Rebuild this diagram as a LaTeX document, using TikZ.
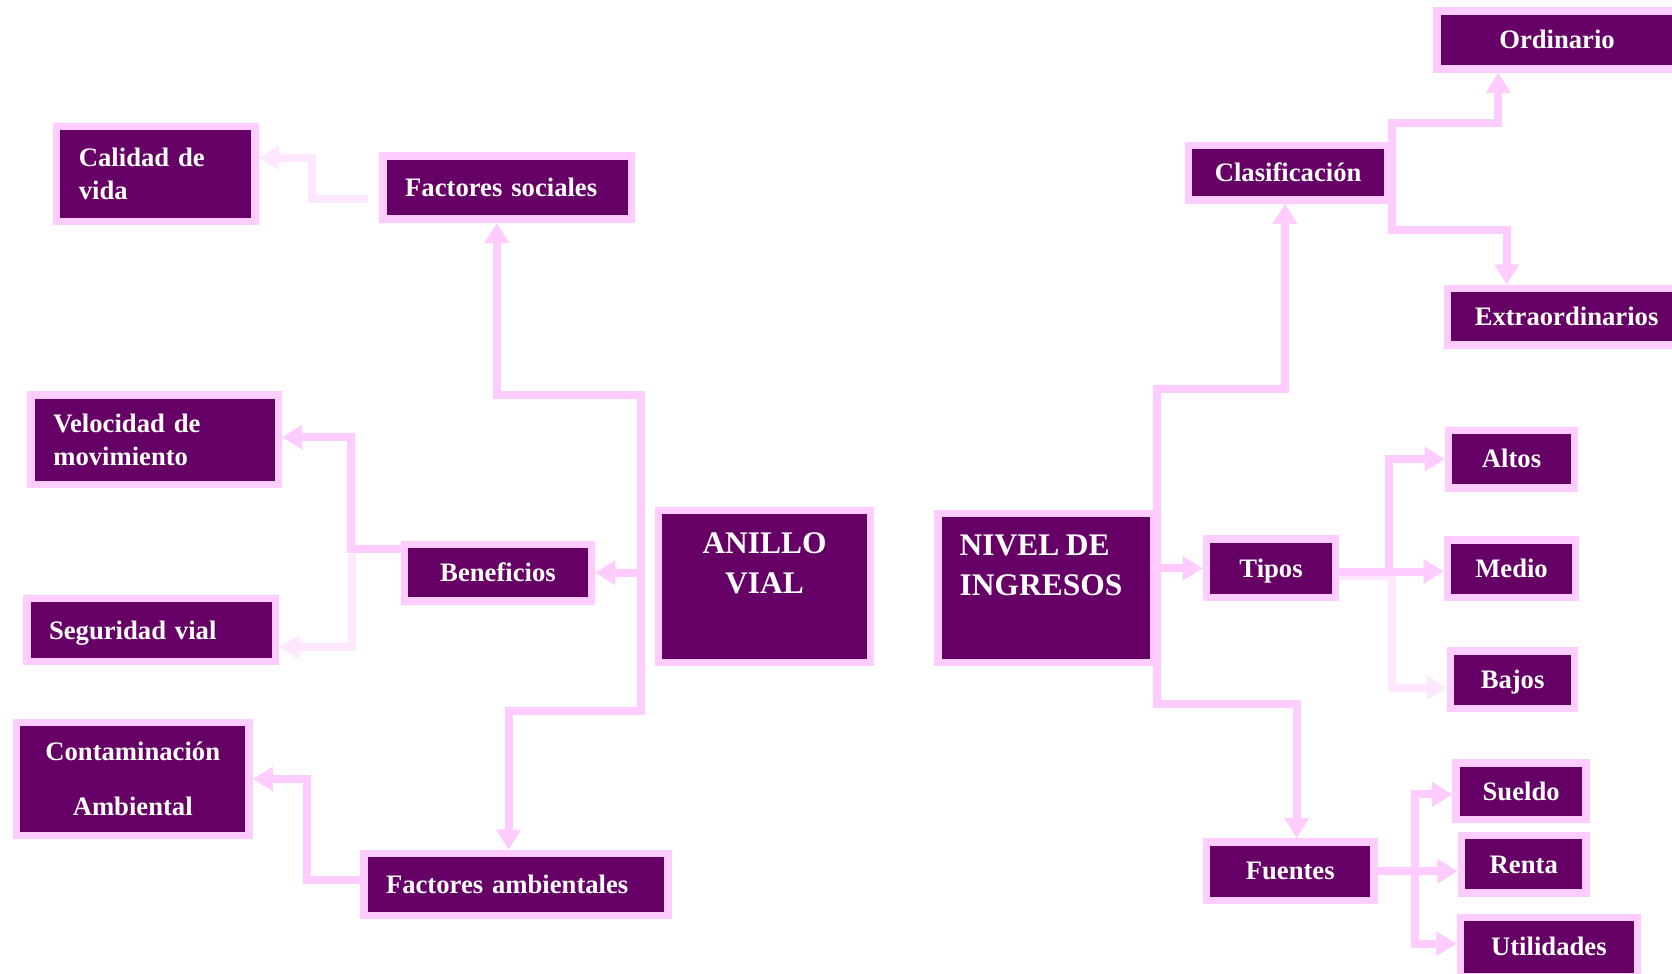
\documentclass[tikz,border=0pt]{standalone}
\usepackage{fontspec}
\setmainfont{Liberation Serif}[WordSpace = 0.85]
\usetikzlibrary{arrows.meta, positioning, calc}
\definecolor{morado}{HTML}{660066}
\definecolor{rosa}{HTML}{FFCCFF}
\definecolor{rosaclaro}{HTML}{FFE8FF}

\begin{document}
\begin{tikzpicture}
	[
	x = 1pt, y = -1pt,
	box/.style = {rectangle, draw = rosa, fill = morado, line width = 7pt, text = white, inner sep = 0pt, align = center, font = \bfseries\fontsize{25}{31}\selectfont},
	lbox/.style = {box, align = left, inner xsep = 21pt},
	big/.style = {font = \bfseries\fontsize{29.5}{38}\selectfont},
	one/.style = {text height = 16.5pt, text depth = 0pt},
	tip/.style = {
		rosa, line width = 7.5pt,
		-{Triangle[width = 22pt, length = 19pt]}
	},
	ltip/.style = {tip, rosaclaro}
	]
	\path[use as bounding box, clip] (0,0) rectangle (1568,912.5);
	
	% anillo vial
	\node[lbox, text width = 144pt, minimum height = 89pt] (cal) at (146,163) {Calidad de\\vida};
	\node[lbox, one, text width = 191pt, minimum height = 59pt] (fsoc) at (475.5,176) {Factores sociales};
	\node[lbox, text width = 190pt, minimum height = 84pt] (vel) at (145,412.5) {Velocidad de\\movimiento};
	\node[box, one, minimum width = 175pt, minimum height = 53pt] (ben) at (467,537) {Beneficios};
	\node[lbox, one, text width = 192pt, minimum height = 59pt, inner xsep = 20.5pt] (seg) at (142,591) {Seguridad vial};
	\node[box, minimum width = 218pt, minimum height = 106pt] (cont) at (124.5,730.5) {Contaminación\\[21pt]Ambiental};
	\node[lbox, one, text width = 244pt, minimum height = 58pt, inner xsep = 20.5pt] (famb) at (484,829.5) {Factores ambientales};
	\node[box, big] (anillo) at (717,550) {\parbox[c][143pt][t]{199pt}{\centering\vspace*{21pt}ANILLO\\VIAL}};
	
	% nivel de ingresos
	\node[box, big] (nivel) at (980.5,551.5) {\parbox[c][140pt][t]{202pt}{\leftskip=20.5pt\vspace*{20pt}NIVEL DE\\INGRESOS}};
	\node[box, one, minimum width = 187pt, minimum height = 51pt] (clas) at (1208,162) {Clasificación};
	\node[lbox, one, text width = 222pt, minimum height = 54pt, inner xsep = 58.5pt] (ord) at (1517,37.5) {Ordinario};
	\node[lbox, one, text width = 278pt, minimum height = 53pt, inner xsep = 25.5pt] (extra) at (1522,297) {Extraordinarios};
	\node[box, one, minimum width = 121pt, minimum height = 55pt] (tipos) at (1192,533) {Tipos};
	\node[box, one, minimum width = 118pt, minimum height = 54pt] (altos) at (1417.5,430.5) {Altos};
	\node[box, one, minimum width = 120pt, minimum height = 54pt] (medio) at (1417.5,533.5) {Medio};
	\node[box, one, minimum width = 116pt, minimum height = 54pt] (bajos) at (1418.5,637.5) {Bajos};
	\node[box, one, minimum width = 157pt, minimum height = 55pt] (fuentes) at (1210,817) {Fuentes};
	\node[box, one, minimum width = 122pt, minimum height = 53pt] (sueldo) at (1426.5,742) {Sueldo};
	\node[box, one, minimum width = 117pt, minimum height = 54pt] (renta) at (1429,810.5) {Renta};
	\node[box, one, minimum width = 166pt, minimum height = 55pt] (util) at (1452.5,888) {Utilidades};
	
	% connectors, left side
	\coordinate (a1) at (601,370);
	\coordinate (a2) at (601,667);
	\draw[tip] (a2) -- (a1) -| ($(fsoc.south)+(-9.5,0)$);
	\draw[tip] (a1) -- (a2) -| ($(famb.north)+(-7,0)$);
	\draw[tip] (a1 |- ben.east) -- (ben.east);
	\draw[ltip] ($(fsoc.west)+(-10,11)$) -| ($(cal.east)+(50,-15)$) -- ($(cal.east)+(0,-15)$);
	\draw[ltip] ($(ben.west)+(-46,-17)$) |- ($(seg.east)+(0,16)$);
	\draw[tip] ($(ben.west)+(0,-22)$) -| ($(vel.east)+(65,-2.5)$) -- ($(vel.east)+(0,-2.5)$);
	\draw[tip] ($(famb.west)+(0,-4.5)$) -| ($(cont.east)+(51,0)$) -- (cont.east);
	
	% connectors, right side
	\coordinate (n1) at (1085,365);
	\coordinate (n2) at (1085,660);
	\draw[tip] (n2) -- (n1) -| ($(clas.south)+(-3,0)$);
	\draw[tip] (n1) -- (n2) -| ($(fuentes.north)+(6,0)$);
	\draw[tip] (n1 |- tipos.west) -- (tipos.west);
	\coordinate (c1) at (1305,115);
	\coordinate (c2) at (1305,216);
	\draw[tip] (c2) -- (c1) -| ($(ord.south)+(-112,0)$);
	\draw[tip] (c1) -- (c2) -| ($(extra.north)+(-109,0)$);
	\draw[ltip] ($(tipos.east)+(0,7)$) -- ++(49,0) |- ($(bajos.west)+(0,7.5)$);
	\draw[tip] ($(tipos.east)+(0,3)$) -- ($(medio.west)+(0,2.5)$);
	\draw[tip] ($(tipos.east)+(47,3)$) |- (altos.west);
	\draw[tip] (fuentes.east) -- (fuentes.east -| renta.west);
	\draw[tip] ($(fuentes.east)+(35,0)$) |- ($(sueldo.west)+(0,3)$);
	\draw[tip] ($(fuentes.east)+(35,0)$) |- ($(util.west)+(0,-3)$);
\end{tikzpicture}
\end{document}
